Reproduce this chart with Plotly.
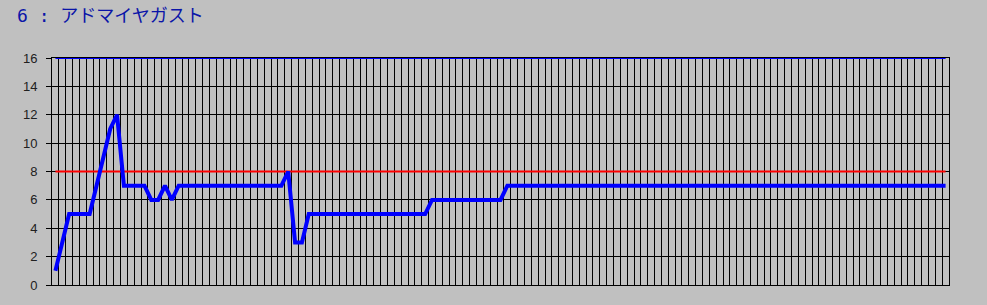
import plotly.graph_objects as go

title_text = "6 : アドマイヤガスト"

# blue series (value per category index 0..130)
segments = [
    (1, 1), (3, 1), (5, 4), (7, 1), (9, 1), (11, 1), (12, 1),
    (7, 4), (6, 2), (7, 1), (6, 1), (7, 16), (8, 1), (3, 2),
    (5, 18), (6, 11), (7, 65),
]
values = []
for v, n in segments:
    values.extend([v] * n)
categories = list(range(len(values)))

upper_level = 16
mid_level = 8
y_ticks = [0, 2, 4, 6, 8, 10, 12, 14, 16]

prefix, name = title_text[:4], title_text[4:]
title_html = ('<span style="font-family:\'DejaVu Sans Mono\';font-size:18px">'
              + prefix + '</span>' + name)

fig = go.Figure()
fig.add_trace(go.Scatter(x=categories, y=[upper_level] * len(categories), mode="lines",
                         line=dict(color="#0000FF", width=2), hoverinfo="skip"))
fig.add_trace(go.Scatter(x=categories, y=[mid_level] * len(categories), mode="lines",
                         line=dict(color="#FF0000", width=2), hoverinfo="skip"))
fig.add_trace(go.Scatter(x=categories, y=values, mode="lines",
                         line=dict(color="#0000FF", width=4)))

fig.update_layout(
    width=987, height=305,
    margin=dict(l=52, r=38, t=58, b=20),
    paper_bgcolor="#C0C0C0", plot_bgcolor="#C0C0C0",
    showlegend=False,
    annotations=[dict(text=title_html, x=(15 - 52) / 897, y=1 + (58 - 14) / 227,
                      xref="paper", yref="paper",
                      showarrow=False, xanchor="left", yanchor="middle",
                      font=dict(family="Noto Sans CJK JP", size=18,
                                color="#0A14A8"))],
)

fig.update_xaxes(range=[-0.5, len(categories) - 0.5], tick0=-0.5, dtick=1,
                 showgrid=True, gridcolor="#000000", gridwidth=1,
                 showticklabels=False, ticks="", zeroline=False,
                 showline=True, linecolor="#000000", linewidth=1, mirror=True)
fig.update_yaxes(range=[0, 16], tickvals=y_ticks, ticktext=[str(t) for t in y_ticks],
                 showgrid=True, gridcolor="#000000", gridwidth=1,
                 ticks="outside", ticklen=5, tickcolor="#000000", ticklabelstandoff=6,
                 tickfont=dict(family="Liberation Sans", size=13, color="#202020"),
                 zeroline=False,
                 showline=True, linecolor="#000000", linewidth=1, mirror=True)

fig.write_html("out.html")
